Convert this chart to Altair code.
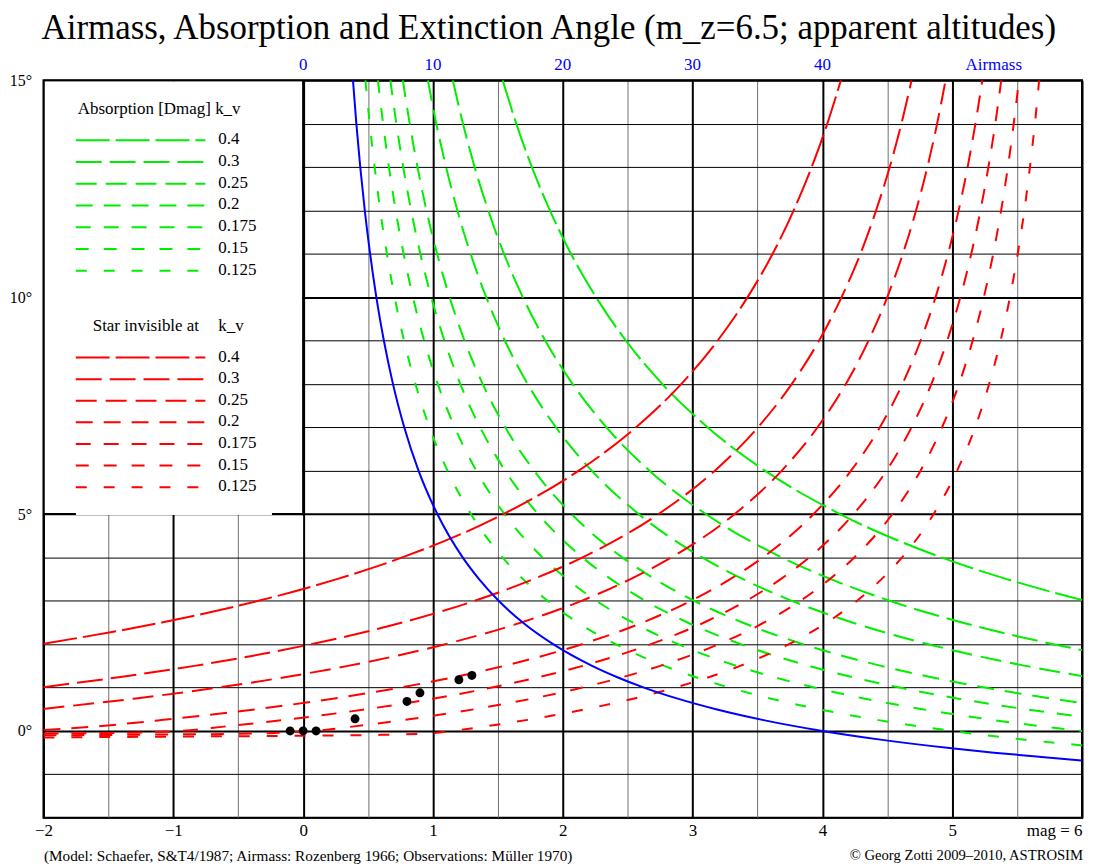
import altair as alt
import pandas as pd

# ---------------- values ----------------
K_LABELS = ["0.4", "0.3", "0.25", "0.2", "0.175", "0.15", "0.125"]

# Absorption curves (green): apparent altitude (deg) shared, magnitude per k_v
GREEN_ALT = [15, 14, 13, 12, 11, 10, 9, 8, 7, 6, 5, 4, 3.5, 3, 2.5, 2, 1.5, 1.25, 1, 0.75, 0.5, 0.25, 0, -0.2, -0.4]
GREEN_MAG_040 = [1.537, 1.642, 1.762, 1.901, 2.063, 2.256, 2.486, 2.766, 3.115, 3.557, 4.136, 4.916, 5.42, 6.024]
GREEN_MAG_030 = [1.153, 1.231, 1.321, 1.426, 1.547, 1.692, 1.865, 2.075, 2.336, 2.668, 3.102, 3.687, 4.065, 4.518, 5.076, 5.778, 6.678]
GREEN_MAG_025 = [0.961, 1.026, 1.101, 1.188, 1.290, 1.410, 1.554, 1.729, 1.947, 2.223, 2.585, 3.073, 3.388, 3.765, 4.230, 4.815, 5.565, 6.028]
GREEN_MAG_020 = [0.768, 0.821, 0.881, 0.950, 1.032, 1.128, 1.243, 1.383, 1.557, 1.779, 2.068, 2.458, 2.710, 3.012, 3.384, 3.852, 4.452, 4.822, 5.252, 5.758, 6.362]
GREEN_MAG_0175 = [0.672, 0.718, 0.771, 0.832, 0.903, 0.987, 1.088, 1.210, 1.363, 1.556, 1.810, 2.151, 2.371, 2.636, 2.961, 3.371, 3.896, 4.219, 4.596, 5.038, 5.567, 6.207]
GREEN_MAG_015 = [0.576, 0.616, 0.661, 0.713, 0.774, 0.846, 0.932, 1.037, 1.168, 1.334, 1.551, 1.844, 2.033, 2.259, 2.538, 2.889, 3.339, 3.617, 3.939, 4.319, 4.772, 5.321, 6.0]
GREEN_MAG_0125 = [0.480, 0.513, 0.551, 0.594, 0.645, 0.705, 0.777, 0.865, 0.973, 1.112, 1.293, 1.536, 1.694, 1.883, 2.115, 2.408, 2.783, 3.014, 3.283, 3.599, 3.976, 4.434, 5.0, 5.559, 6.245]

# Extinction angle curves (red): "star invisible at"
RED_ALT_040 = [2.01, 2.5, 3, 3.5, 4, 5, 6, 7, 8, 9, 10, 11, 12, 13, 14, 15]
RED_MAG_040 = [-2.0, -1.088, -0.344, 0.26, 0.764, 1.544, 2.123, 2.565, 2.914, 3.194, 3.424, 3.617, 3.779, 3.918, 4.038, 4.143]
RED_ALT_030 = [1.01, 1.25, 1.5, 2, 2.5, 3, 3.5, 4, 5, 6, 7, 8, 9, 10, 11, 12, 13, 14, 15]
RED_MAG_030 = [-2.0, -1.393, -0.838, 0.062, 0.764, 1.322, 1.775, 2.153, 2.738, 3.172, 3.504, 3.765, 3.975, 4.148, 4.293, 4.414, 4.519, 4.609, 4.687]
RED_ALT_025 = [0.51, 0.75, 1, 1.25, 1.5, 2, 2.5, 3, 3.5, 4, 5, 6, 7, 8, 9, 10, 11, 12, 13, 14, 15]
RED_MAG_025 = [-2.0, -1.288, -0.655, -0.118, 0.345, 1.095, 1.68, 2.145, 2.522, 2.837, 3.325, 3.687, 3.963, 4.181, 4.356, 4.50, 4.62, 4.722, 4.809, 4.884, 4.949]
RED_ALT_020 = [0.02, 0.1, 0.25, 0.5, 0.75, 1, 1.25, 1.5, 2, 2.5, 3, 3.5, 4, 5, 6, 7, 8, 9, 10, 11, 12, 13, 14, 15]
RED_MAG_020 = [-2.0, -1.614, -1.094, -0.362, 0.242, 0.748, 1.178, 1.548, 2.148, 2.616, 2.988, 3.29, 3.542, 3.932, 4.221, 4.443, 4.617, 4.757, 4.872, 4.968, 5.05, 5.119, 5.179, 5.232]
RED_ALT_0175 = [-0.06, -0.05, -0.03, 0.0, 0.1, 0.25, 0.5, 0.75, 1, 1.25, 1.5, 2, 2.5, 3, 3.5, 4, 5, 6, 7, 8, 9, 10, 11, 12, 13, 14, 15]
RED_MAG_0175 = [-2.0, -1.6, -1.2, -0.95, -0.612, -0.157, 0.483, 1.012, 1.454, 1.831, 2.154, 2.679, 3.089, 3.414, 3.679, 3.899, 4.24, 4.494, 4.687, 4.84, 4.962, 5.063, 5.147, 5.218, 5.279, 5.332, 5.378]
RED_ALT_015 = [-0.1, -0.08, -0.06, -0.03, 0.0, 0.1, 0.25, 0.5, 0.75, 1, 1.25, 1.5, 2, 2.5, 3, 3.5, 4, 5, 6, 7, 8, 9, 10, 11, 12, 13, 14, 15]
RED_MAG_015 = [-2.0, -1.0, -0.4, -0.1, 0.09, 0.379, 0.769, 1.318, 1.771, 2.151, 2.473, 2.751, 3.201, 3.552, 3.831, 4.057, 4.246, 4.539, 4.756, 4.922, 5.053, 5.158, 5.244, 5.316, 5.377, 5.429, 5.474, 5.514]
RED_ALT_0125 = [-0.15, -0.13, -0.11, -0.09, -0.06, 0.0, 0.1, 0.25, 0.5, 0.75, 1, 1.25, 1.5, 2, 2.5, 3, 3.5, 4, 5, 6, 7, 8, 9, 10, 11, 12, 13, 14, 15]
RED_MAG_0125 = [-2.0, -1.0, 0.0, 0.6, 0.95, 1.15, 1.391, 1.716, 2.174, 2.551, 2.867, 3.136, 3.367, 3.742, 4.035, 4.267, 4.456, 4.614, 4.857, 5.038, 5.177, 5.285, 5.373, 5.445, 5.505, 5.556, 5.599, 5.637, 5.67]

# Airmass (blue), top axis airmass = 10 x bottom scale
AIRMASS_ALT = [15, 14, 13, 12, 11, 10, 9, 8, 7, 6, 5, 4, 3.5, 3, 2.5, 2, 1.5, 1.25, 1, 0.75, 0.5, 0.25, 0, -0.2, -0.4, -0.5, -0.6, -0.68]
AIRMASS_MAG = [0.384, 0.410, 0.440, 0.475, 0.516, 0.564, 0.622, 0.692, 0.779, 0.889, 1.034, 1.229, 1.355, 1.506, 1.692, 1.926, 2.226, 2.411, 2.626, 2.879, 3.181, 3.547, 4.0, 4.447, 4.996, 5.321, 5.688, 6.0]

# Observations (Müller 1970)
OBS_MAG = [-0.1, 0.0, 0.1, 0.4, 0.8, 0.9, 1.2, 1.3]
OBS_ALT = [0.0, 0.0, 0.0, 0.28, 0.68, 0.88, 1.18, 1.28]

# axes
X_GRID = [-2, -1.5, -1, -0.5, 0, 0.5, 1, 1.5, 2, 2.5, 3, 3.5, 4, 4.5, 5, 5.5, 6]
Y_GRID = [-2, -1, 0, 1, 2, 3, 4, 5, 6, 7, 8, 9, 10, 11, 12, 13, 14, 15]
TOP_LABEL_POS = [0, 1, 2, 3, 4, 5.32]
TOP_LABEL_TEXT = ["0", "10", "20", "30", "40", "Airmass"]

TITLE = "Airmass, Absorption and Extinction Angle (m_z=6.5; apparent altitudes)"
NOTE_LEFT = "(Model: Schaefer, S&T4/1987; Airmass: Rozenberg 1966; Observations: Müller 1970)"
NOTE_RIGHT = "© Georg Zotti 2009–2010, ASTROSIM"

# ---------------- styles ----------------
SERIF = "Liberation Serif"
GREEN = "#00ee00"
RED = "#ff0000"
BLUE = "#0000ff"
DASHES = [[34, 6], [26, 8], [21, 9], [17, 11], [15, 13], [13, 15], [11, 17]]


def rows(k, mags, alts):
    return [{"k": k, "i": i, "mag": m, "alt": a} for i, (m, a) in enumerate(zip(mags, alts))]


green_sets = [GREEN_MAG_040, GREEN_MAG_030, GREEN_MAG_025, GREEN_MAG_020,
              GREEN_MAG_0175, GREEN_MAG_015, GREEN_MAG_0125]
red_sets = [(RED_MAG_040, RED_ALT_040), (RED_MAG_030, RED_ALT_030), (RED_MAG_025, RED_ALT_025),
            (RED_MAG_020, RED_ALT_020), (RED_MAG_0175, RED_ALT_0175), (RED_MAG_015, RED_ALT_015),
            (RED_MAG_0125, RED_ALT_0125)]

green_df = pd.DataFrame(sum([rows(k, m, GREEN_ALT) for k, m in zip(K_LABELS, green_sets)], []))
red_df = pd.DataFrame(sum([rows(k, m, a) for k, (m, a) in zip(K_LABELS, red_sets)], []))
blue_df = pd.DataFrame(rows("airmass", AIRMASS_MAG, AIRMASS_ALT))
obs_df = pd.DataFrame({"mag": OBS_MAG, "alt": OBS_ALT})
top_df = pd.DataFrame({"mag": TOP_LABEL_POS, "label": TOP_LABEL_TEXT})

xscale = alt.Scale(domain=[-2, 6], nice=False, zero=False)
yscale = alt.Scale(domain=[-2, 15], nice=False, zero=False)

x_axis = alt.Axis(
    values=X_GRID, title=None, grid=True, gridOpacity=1,
    gridColor={"condition": {"test": "datum.value % 1 === 0", "value": "#000000"}, "value": "#707070"},
    gridWidth={"condition": {"test": "datum.value % 1 === 0", "value": 2}, "value": 1},
    ticks=False, tickSize=0, domain=False,
    labelExpr="datum.value == 6 ? 'mag = 6' : (datum.value % 1 != 0 ? '' : (datum.value < 0 ? '\u2212' + (-datum.value) : '' + datum.value))",
    labelAlign={"condition": {"test": "datum.value == 6", "value": "right"}, "value": "center"},
    labelFont=SERIF, labelFontSize=17, labelColor="black", labelPadding=5,
    labelFlush=False, labelOverlap=False, labelBaseline="top",
)
y_axis = alt.Axis(
    values=Y_GRID, title=None, grid=True, gridOpacity=1, gridColor="#000000",
    gridWidth={"condition": {"test": "datum.value % 5 === 0", "value": 2}, "value": 1},
    ticks=False, tickSize=0, domain=False,
    labelExpr="(datum.value % 5 == 0 && datum.value >= 0) ? datum.value + '°' : ''",
    labelFont=SERIF, labelFontSize=16, labelColor="black", labelPadding=12,
    labelOverlap=False, labelBaseline="middle",
)

X = alt.X("mag:Q", scale=xscale, axis=x_axis)
Y = alt.Y("alt:Q", scale=yscale, axis=y_axis)

dash_enc = alt.StrokeDash("k:N", scale=alt.Scale(domain=K_LABELS, range=DASHES), legend=None)

layers = []

# white legend box over the grid
layers.append(
    alt.Chart(pd.DataFrame({"mag": [-1.99], "mag2": [-0.008], "alt": [4.975], "alt2": [14.97]}))
    .mark_rect(color="white", opacity=1)
    .encode(x=X, x2="mag2:Q", y=Y, y2="alt2:Q")
)
layers.append(
    alt.Chart(pd.DataFrame({"mag": [0], "alt": [4.97], "alt2": [15]}))
    .mark_rule(color="black", strokeWidth=2)
    .encode(x=X, y=Y, y2="alt2:Q")
)
layers.append(
    alt.Chart(pd.DataFrame({"mag": [-2, -0.24], "mag2": [-1.75, 0], "alt": [5, 5]}))
    .mark_rule(color="black", strokeWidth=2)
    .encode(x=X, x2="mag2:Q", y=Y)
)

# curves
layers.append(
    alt.Chart(green_df).mark_line(color=GREEN, strokeWidth=2, clip=True, interpolate="monotone")
    .encode(x=X, y=Y, detail="k:N", order="i:Q", strokeDash=dash_enc)
)
layers.append(
    alt.Chart(red_df).mark_line(color=RED, strokeWidth=2, clip=True, interpolate="monotone")
    .encode(x=X, y=Y, detail="k:N", order="i:Q", strokeDash=dash_enc)
)
layers.append(
    alt.Chart(blue_df).mark_line(color=BLUE, strokeWidth=2, clip=True, interpolate="monotone")
    .encode(x=X, y=Y, order="i:Q")
)
layers.append(
    alt.Chart(obs_df).mark_circle(color="black", size=80, opacity=1)
    .encode(x=X, y=Y)
)

# top (airmass) labels
layers.append(
    alt.Chart(top_df).mark_text(color=BLUE, font=SERIF, fontSize=17, align="center", baseline="alphabetic")
    .encode(x=X, y=alt.value(-10.5), text="label:N")
)

# legend (drawn inside the white box)
def label_layer(text, x, y, size=17, align="left"):
    return (alt.Chart(pd.DataFrame({"t": [text]}))
            .mark_text(font=SERIF, fontSize=size, align=align, baseline="middle", color="black")
            .encode(x=alt.value(x), y=alt.value(y), text="t:N"))

layers.append(label_layer("Absorption [Dmag] k_v", 34.4, 29))
layers.append(label_layer("Star invisible at", 49.4, 247))
layers.append(label_layer("k_v", 175.4, 247))

for i, (lab, dash) in enumerate(zip(K_LABELS, DASHES)):
    for color, y0, step in ((GREEN, 60.3, 21.8), (RED, 278.3, 21.67)):
        yy = y0 + step * i
        layers.append(
            alt.Chart(pd.DataFrame({"k": [lab]}))
            .mark_rule(color=color, strokeWidth=2, strokeDash=dash)
            .encode(x=alt.value(32.4), x2=alt.value(162.4), y=alt.value(yy))
        )
        layers.append(label_layer(lab, 175.4, yy - 1))

# footnotes
layers.append(label_layer(NOTE_LEFT, 0.5, 778, size=15.3))
layers.append(label_layer(NOTE_RIGHT, 1043, 778, size=14.7, align="right"))

chart = (
    alt.layer(*layers)
    .properties(
        width=1042, height=740,
        padding={"left": 35.6, "top": 71, "right": 4, "bottom": 46},
        autosize=alt.AutoSizeParams(type="none"),
        title=alt.TitleParams(TITLE, font=SERIF, fontSize=35, fontWeight="normal", color="black",
                              anchor="middle", frame="group", dx=-14, offset=10),
    )
    .configure_view(stroke="black", strokeWidth=2)
)

chart.save("out.html", embed_options={"renderer": "svg", "actions": False})
